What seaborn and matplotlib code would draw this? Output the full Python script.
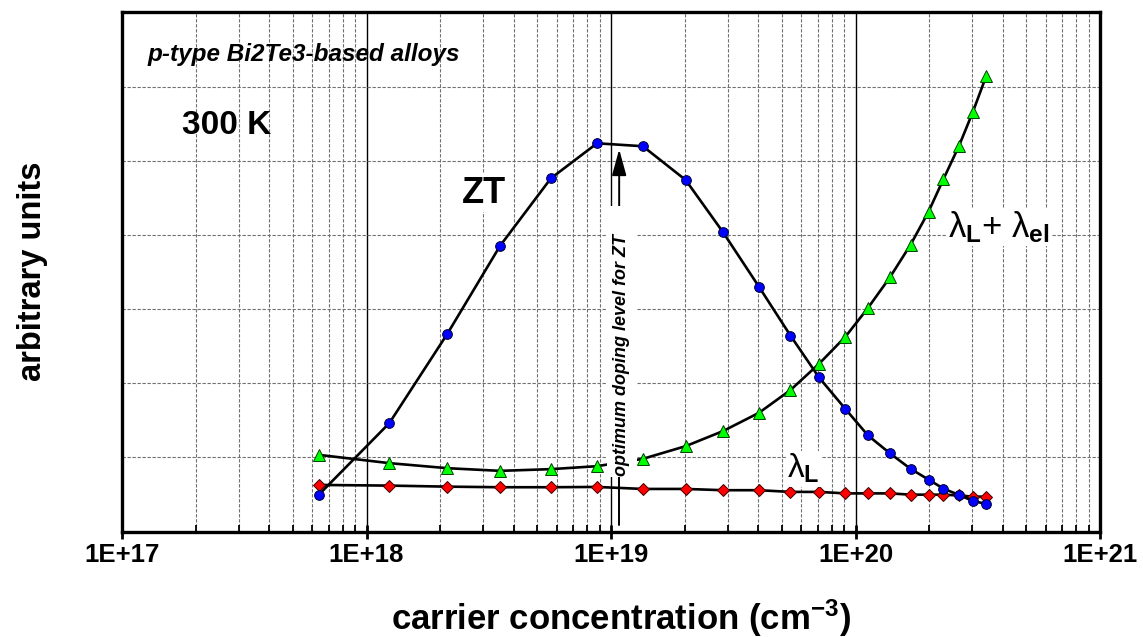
import numpy as np
import matplotlib
matplotlib.use("Agg")
import matplotlib.pyplot as plt
import seaborn as sns
from matplotlib.ticker import LogLocator, NullFormatter, MultipleLocator
from matplotlib.patches import Rectangle

# Carrier concentration (cm^-3) of the computed points
carrier_conc = [6.37e17, 1.24e18, 2.14e18, 3.52e18, 5.68e18, 8.77e18, 1.35e19,
                2.02e19, 2.87e19, 4.03e19, 5.42e19, 7.09e19, 9.10e19, 1.125e20,
                1.384e20, 1.68e20, 1.99e20, 2.29e20, 2.65e20, 3.02e20, 3.42e20]

# Figure of merit ZT (arbitrary units)
zt = [0.493, 1.462, 2.665, 3.854, 4.764, 5.236, 5.196, 4.741, 4.038, 3.300,
      2.642, 2.078, 1.651, 1.295, 1.054, 0.845, 0.700, 0.578, 0.493, 0.412, 0.372]

# Total thermal conductivity lambda_L + lambda_el (arbitrary units)
kappa_total = [1.034, 0.922, 0.854, 0.818, 0.841, 0.881, 0.980, 1.151, 1.354,
               1.601, 1.908, 2.261, 2.628, 3.016, 3.430, 3.868, 4.314, 4.754,
               5.200, 5.659, 6.138]

# Lattice thermal conductivity lambda_L (arbitrary units)
kappa_lattice = [0.628, 0.619, 0.605, 0.597, 0.597, 0.601, 0.574, 0.574, 0.557,
                 0.557, 0.534, 0.534, 0.514, 0.514, 0.514, 0.497, 0.497, 0.497,
                 0.486, 0.470, 0.470]

x_ticks = [1e17, 1e18, 1e19, 1e20, 1e21]
x_tick_labels = ["1E+17", "1E+18", "1E+19", "1E+20", "1E+21"]

# Concentration giving the highest ZT; the marker line runs from near the
# axis up to the arrow tip, broken by the caption panel
optimum_doping = 1.08e19
line_bottom, panel_bottom, panel_top, arrow_tip = 0.088, 0.73, 4.39, 5.155

sns.set_theme(style="white")
plt.rcParams["font.family"] = ["Liberation Sans", "DejaVu Sans"]
plt.rcParams["text.color"] = "black"
plt.rcParams["axes.labelcolor"] = "black"
plt.rcParams["xtick.color"] = "black"
plt.rcParams["ytick.color"] = "black"
plt.rcParams["mathtext.fontset"] = "custom"
plt.rcParams["mathtext.rm"] = "Liberation Sans"
plt.rcParams["mathtext.it"] = "Liberation Sans"
plt.rcParams["mathtext.bf"] = "Liberation Sans:bold"

fig = plt.figure(figsize=(11.43, 6.37), dpi=100)
ax = fig.add_axes([0.10674, 0.16562, 0.85564, 0.81476])

ax.set_xscale("log")
ax.set_xlim(1e17, 1e21)
ax.set_ylim(0, 7)

# Grid: dashed grey for minor decades and y levels, solid black at decades
ax.set_axisbelow(True)
ax.yaxis.set_major_locator(MultipleLocator(1))
ax.xaxis.set_minor_locator(LogLocator(base=10, subs=np.arange(2, 10), numticks=100))
ax.xaxis.set_minor_formatter(NullFormatter())
ax.grid(axis="y", which="major", color="#707070", linestyle=(0, (3, 1.5)), linewidth=0.8)
ax.grid(axis="x", which="minor", color="#707070", linestyle=(0, (3, 1.5)), linewidth=0.8)
ax.grid(axis="x", which="major", color="black", linestyle="-", linewidth=1.0)

ax.set_xticks(x_ticks, labels=x_tick_labels, fontsize=18.5, fontweight="bold")
ax.tick_params(axis="x", which="major", direction="inout", length=10, width=2,
               pad=3, color="black", labelcolor="black", bottom=True)
ax.tick_params(axis="x", which="minor", direction="in", length=5, width=1.3,
               color="black", bottom=True)
ax.tick_params(axis="y", left=False, labelleft=False)

for side in ["left", "right", "top", "bottom"]:
    ax.spines[side].set_visible(True)
    ax.spines[side].set_color("black")
    ax.spines[side].set_linewidth(2.4)

# Curves
sns.lineplot(x=carrier_conc, y=kappa_lattice, ax=ax, sort=False, color="black",
             linewidth=1.9, marker="D", markersize=6.5, markerfacecolor="#ff0000",
             markeredgecolor="#400000", markeredgewidth=0.7, zorder=3)
sns.lineplot(x=carrier_conc, y=kappa_total, ax=ax, sort=False, color="black",
             linewidth=1.9, marker="^", markersize=8, markerfacecolor="#00ff00",
             markeredgecolor="#004000", markeredgewidth=0.7, zorder=3)
sns.lineplot(x=carrier_conc, y=zt, ax=ax, sort=False, color="black",
             linewidth=1.9, marker="o", markersize=7, markerfacecolor="#0000ff",
             markeredgecolor="#000030", markeredgewidth=0.7, zorder=3.2)

# Optimum doping marker: line below the caption, arrow above it
ax.plot([optimum_doping, optimum_doping], [line_bottom, panel_bottom],
        color="black", linewidth=1.4, zorder=3.5)
ax.annotate("", xy=(optimum_doping, arrow_tip), xytext=(optimum_doping, panel_top),
            arrowprops=dict(arrowstyle="-|>,head_length=0.8,head_width=0.22",
                            color="black", lw=1.4, mutation_scale=20,
                            shrinkA=0, shrinkB=0),
            zorder=3.5)
ax.add_patch(Rectangle((0.4959, 0.105), 0.0307, 0.522, transform=ax.transAxes,
                       facecolor="white", edgecolor="none", zorder=4))
ax.text(0.5112, 0.340, "optimum doping level for ZT", transform=ax.transAxes,
        rotation=90, fontsize=13, fontweight="bold", style="italic",
        ha="center", va="center", zorder=5)

# Text labels
ax.text(0.0266, 0.92, "p-type Bi2Te3-based alloys", transform=ax.transAxes,
        fontsize=17.5, fontweight="bold", style="italic", ha="left", va="center",
        zorder=5)
ax.text(0.061, 0.782, "300 K", transform=ax.transAxes, fontsize=24,
        fontweight="bold", ha="left", va="center", zorder=5)
ax.text(0.348, 0.652, "ZT", transform=ax.transAxes, fontsize=26,
        fontweight="bold", ha="left", va="center", zorder=5,
        bbox=dict(facecolor="white", edgecolor="none", pad=1))
ax.text(0.8446, 0.567, r"$\lambda_{\mathbf{L}}$+ $\lambda_{\mathbf{el}}$",
        transform=ax.transAxes, fontsize=25, ha="left", va="baseline", zorder=5,
        bbox=dict(facecolor="white", edgecolor="none", pad=1))
ax.text(0.68, 0.103, r"$\lambda_{\mathbf{L}}$", transform=ax.transAxes,
        fontsize=24, ha="left", va="baseline", zorder=5,
        bbox=dict(facecolor="white", edgecolor="none", pad=1))

# Axis titles
ax.set_xlabel(r"carrier concentration (cm$^{\mathbf{-3}}$)", fontsize=25,
              fontweight="bold", color="black")
ax.xaxis.set_label_coords(0.51, -0.127)
ax.text(-0.0915, 0.501, "arbitrary units", transform=ax.transAxes, rotation=90,
        fontsize=23.5, fontweight="bold", color="black", ha="center", va="center")

fig.savefig("out.png", dpi=100, facecolor="white")
